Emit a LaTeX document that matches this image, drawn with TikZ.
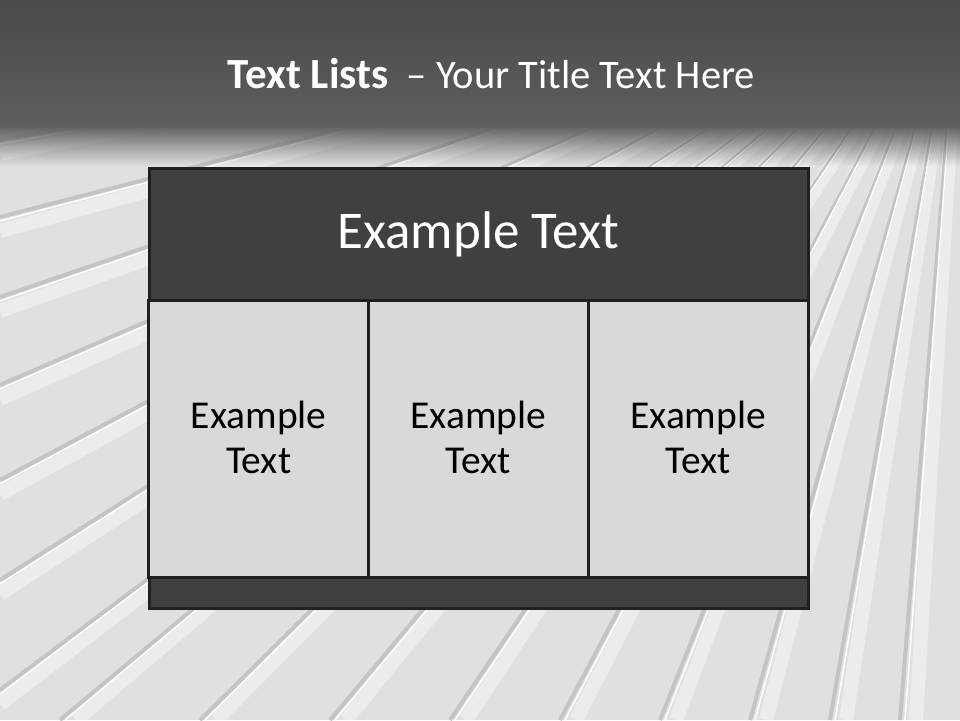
\documentclass[tikz,border=0pt]{standalone}
\usepackage{fontspec}
\setmainfont{Carlito}
\definecolor{boxdark}{HTML}{404040}
\definecolor{celllight}{HTML}{D9D9D9}
\definecolor{edgecol}{HTML}{202020}
\definecolor{bandtop}{HTML}{4A4A4A}
\definecolor{bandbot}{HTML}{5E5E5E}
\definecolor{floor}{HTML}{E0E0E0}
\definecolor{groove}{HTML}{C4C4C4}
\tikzset{
  panel/.style={draw=edgecol, line width=3pt, inner sep=0pt},
  darkpanel/.style={panel, fill=boxdark},
  lightpanel/.style={panel, fill=celllight},
  celltext/.style={text=black, align=center, font=\fontsize{39.5}{45}\selectfont},
  groovestyle/.style={line width=4pt, color=groove},
  shinestyle/.style={line width=1.5pt, color=white},
  glowstyle/.style={line width=14pt, color=white, opacity=0.4},
}
\begin{document}
\begin{tikzpicture}[x=1pt,y=-1pt]
\useasboundingbox (0,0) rectangle (960,720);
% floor
\fill[floor] (0,120) rectangle (960,720);
\begin{scope}
  \clip (0,126) rectangle (960,720);
  \coordinate (vp) at (960,-30);
  \foreach \yy in {140,217,297,385,480,580,690}{
    \draw[glowstyle] (vp) -- (0,\yy+14);
    \draw[groovestyle] (vp) -- (0,\yy);
    \draw[shinestyle] (vp) -- (0,\yy+4);
  }
  \foreach \xx in {60,200,330,450,560,660,750,830,900}{
    \draw[glowstyle] (vp) -- (\xx+16,720);
    \draw[groovestyle] (vp) -- (\xx,720);
    \draw[shinestyle] (vp) -- (\xx+5,720);
  }
  \foreach \i in {0,...,39}{
    \fill[black!62, opacity={1-\i/40}] (0,126+\i) rectangle (960,127.05+\i);
  }
\end{scope}
% title band
\shade[top color=bandtop, bottom color=bandbot] (0,0) rectangle (960,127);
\node[anchor=base, text=white, inner sep=0pt, font=\fontsize{40.5}{44}\selectfont] (title) at (491.5,88)
  {{\bfseries\fontsize{43}{44}\selectfont Text Lists}\ \ – Your Title Text Here};
% table
\node[darkpanel, minimum width=659pt, minimum height=132pt, text=white,
      font=\fontsize{53}{58}\selectfont] (hdr) at (478.5,234) {Example Text};
\node[lightpanel, minimum width=219.7pt, minimum height=277pt] (c1) at (258.8,438.5) {};
\node[lightpanel, minimum width=219.7pt, minimum height=277pt] (c2) at (478.5,438.5) {};
\node[lightpanel, minimum width=219.7pt, minimum height=277pt] (c3) at (698.2,438.5) {};
\node[darkpanel, minimum width=659pt, minimum height=31pt] (ftr) at (478.5,592.5) {};
\node[celltext] (t1) at ([yshift=1pt]c1) {Example\\Text};
\node[celltext] (t2) at ([yshift=1pt]c2) {Example\\Text};
\node[celltext] (t3) at ([yshift=1pt]c3) {Example\\Text};
\end{tikzpicture}
\end{document}
